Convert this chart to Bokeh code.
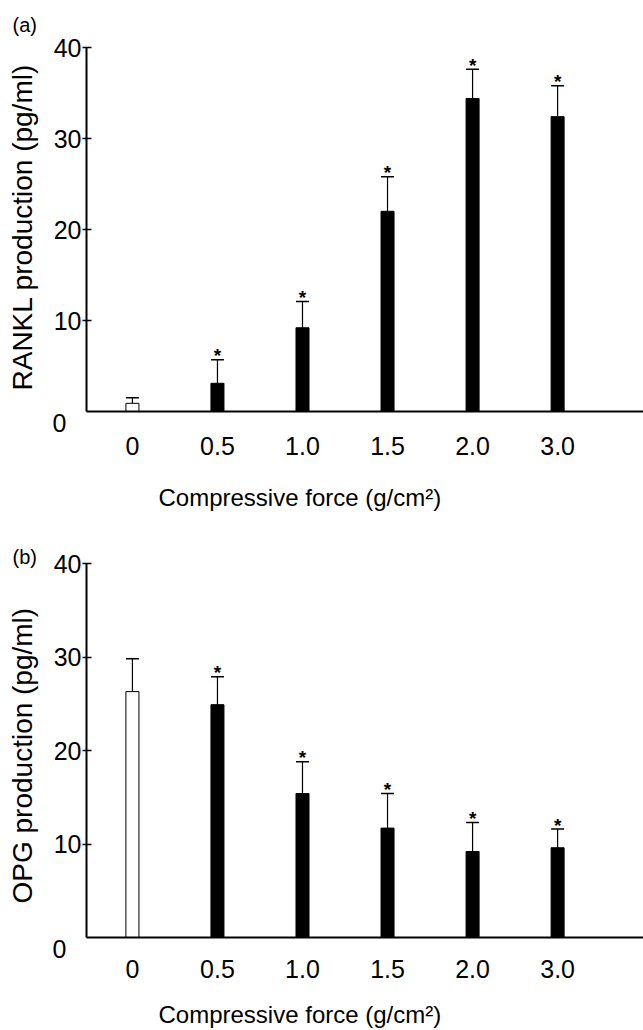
from bokeh.plotting import figure
from bokeh.layouts import column
from bokeh.models import Range1d, FixedTicker, Whisker, TeeHead, ColumnDataSource, Label, Title
from bokeh.core.properties import value
from bokeh.embed import file_html
from bokeh.resources import INLINE

# ---- data ----
forces = ["0", "0.5", "1.0", "1.5", "2.0", "3.0"]          # g/cm2
rankl_mean = [0.9, 3.1, 9.2, 22.0, 34.4, 32.4]              # pg/ml
rankl_sd = [0.6, 2.6, 2.9, 3.8, 3.2, 3.4]
opg_mean = [26.3, 24.9, 15.4, 11.7, 9.2, 9.6]               # pg/ml
opg_sd = [3.5, 3.0, 3.4, 3.7, 3.1, 2.0]
significant = [False, True, True, True, True, True]
y_ticks = [10, 20, 30, 40]

FONT = "Liberation Sans"
XLABEL = "Compressive force (g/cm\u00b2)"


def panel(tag, ylabel, means, sds, height, border_top, border_bottom,
          tag_standoff, tick_standoff, xl_drop, yl_offset):
    idx = list(range(len(forces)))
    tops = [m + s for m, s in zip(means, sds)]
    fills = ["white" if f == "0" else "black" for f in forces]
    src = ColumnDataSource(dict(x=idx, m=means, top=tops, fill=fills))
    x0 = -0.54

    p = figure(width=643, height=height,
               x_range=Range1d(x0, 6.01), y_range=Range1d(0, 40),
               output_backend="svg", toolbar_location=None,
               min_border_left=86, min_border_right=0,
               min_border_top=border_top, min_border_bottom=border_bottom,
               outline_line_color=None, background_fill_color="white",
               border_fill_color="white")
    p.grid.visible = False

    p.title = Title(text=tag, align="left", offset=-74, standoff=tag_standoff,
                    text_font=FONT, text_font_size="20px", text_font_style="normal",
                    text_color="black")

    p.vbar(x="x", top="m", bottom=0, width=0.153, source=src,
           fill_color="fill", line_color="black", line_width=1)

    p.add_layout(Whisker(source=src, base="x", lower="m", upper="top",
                         line_color="black", line_width=1.2,
                         upper_head=TeeHead(size=13, line_color="black", line_width=1.5),
                         lower_head=None))

    sx = [i for i, s in zip(idx, significant) if s]
    sy = [t for t, s in zip(tops, significant) if s]
    p.text(x=sx, y=sy, text=["*"] * len(sx), text_align="center",
           text_baseline="alphabetic", y_offset=-4, text_font=value(FONT),
           text_font_size="19px", text_font_style="bold", text_color="black")

    # x axis
    xa = p.xaxis[0]
    xa.ticker = FixedTicker(ticks=idx)
    xa.major_label_overrides = {i: f for i, f in zip(idx, forces)}
    xa.major_tick_out = 0
    xa.major_tick_in = 0
    xa.minor_tick_out = 0
    xa.minor_tick_in = 0
    xa.major_label_standoff = tick_standoff
    xa.axis_line_width = 2
    xa.axis_line_color = "black"
    xa.major_label_text_font = FONT
    xa.major_label_text_font_size = "25px"
    xa.major_label_text_color = "black"

    # x axis title, set left of centre as in the reference
    p.add_layout(Label(x=x0, y=0, x_offset=72, y_offset=-xl_drop, text=XLABEL,
                       text_align="left", text_baseline="top",
                       text_font=FONT, text_font_size="24px", text_color="black"), "below")

    # y axis (ticks and tick labels)
    ya = p.yaxis[0]
    ya.ticker = FixedTicker(ticks=y_ticks)
    ya.major_tick_out = 4
    ya.major_tick_in = 5
    ya.major_tick_line_width = 1.5
    ya.minor_tick_out = 0
    ya.minor_tick_in = 0
    ya.major_label_standoff = 1
    ya.axis_line_width = 2
    ya.axis_line_color = "black"
    ya.major_label_text_font = FONT
    ya.major_label_text_font_size = "25px"
    ya.major_label_text_color = "black"

    # zero label of the y axis, set below the corner as in the reference
    p.add_layout(Label(x=x0, y=0, x_offset=-20, y_offset=-11, text="0",
                       text_align="right", text_baseline="middle",
                       text_font=FONT, text_font_size="25px", text_color="black"), "left")
    # y axis title
    p.add_layout(Title(text=ylabel, align="left", offset=yl_offset, standoff=-3,
                       text_font=FONT, text_font_size="28px", text_font_style="normal",
                       text_color="black"), "left")
    return p


pa = panel("(a)", "RANKL production (pg/ml)", rankl_mean, rankl_sd,
           height=538, border_top=47, border_bottom=127,
           tag_standoff=23, tick_standoff=25, xl_drop=72, yl_offset=21)
pb = panel("(b)", "OPG production (pg/ml)", opg_mean, opg_sd,
           height=492, border_top=25, border_bottom=93,
           tag_standoff=-8, tick_standoff=22, xl_drop=63, yl_offset=34)

layout = column(pa, pb, spacing=0)
open("out.html", "w").write(file_html(layout, INLINE))
